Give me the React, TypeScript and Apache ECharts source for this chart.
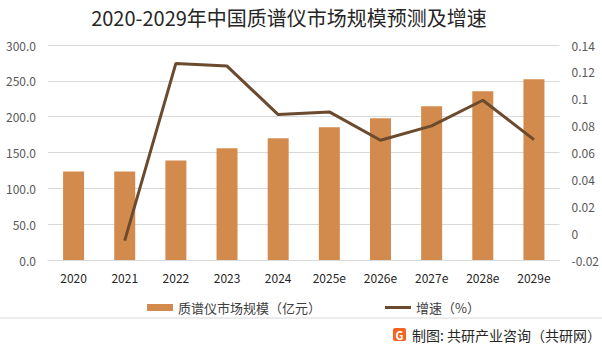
import React, { useEffect, useRef } from "react";
import * as echarts from "echarts";

const categories = ["2020", "2021", "2022", "2023", "2024", "2025e", "2026e", "2027e", "2028e", "2029e"];
const marketSize = [123.6, 123.6, 139.0, 155.8, 169.8, 185.2, 197.8, 214.6, 235.5, 252.3];
const growthRate = [null, -0.0056, 0.1263, 0.1243, 0.0882, 0.0902, 0.0691, 0.0798, 0.0989, 0.0696];
const leftTicks = { min: 0, max: 300, interval: 50 };
const rightTicks = { min: -0.02, max: 0.14, interval: 0.02 };

const titleText = "2020-2029年中国质谱仪市场规模预测及增速";
const barName = "质谱仪市场规模（亿元）";
const lineName = "增速（%）";
const footerText = "制图: 共研产业咨询（共研网）";

const FONT = '"Noto Sans CJK SC", "Noto Sans", sans-serif';

export default function App() {
  const ref = useRef<HTMLDivElement>(null);
  useEffect(() => {
    if (!ref.current) return;
    const chart = echarts.init(ref.current, null, { renderer: "svg" });
    chart.setOption({
      animation: false,
      backgroundColor: "#ffffff",
      textStyle: { fontFamily: FONT },
      title: {
        text: titleText,
        left: 284,
        textAlign: "center",
        top: 2,
        textStyle: { fontFamily: FONT, fontSize: 20, fontWeight: "normal", color: "#262626" },
      },
      grid: { left: 48, right: 42, top: 45, bottom: 89, containLabel: false },
      legend: {
        left: 142,
        top: 296,
        itemGap: 64,
        itemWidth: 26,
        itemHeight: 7,
        textStyle: { fontFamily: FONT, fontSize: 13, color: "#404040" },
        data: [
          { name: barName, icon: "rect" },
          { name: lineName, icon: "path://M0,0L26,0L26,3L0,3Z" },
        ],
      },
      xAxis: {
        type: "category",
        data: categories,
        axisLine: { show: true, lineStyle: { color: "#d9d9d9" } },
        axisTick: { show: false },
        axisLabel: { color: "#262626", fontSize: 12, fontFamily: FONT, margin: 11 },
      },
      yAxis: [
        {
          type: "value",
          min: leftTicks.min,
          max: leftTicks.max,
          interval: leftTicks.interval,
          axisLine: { show: false },
          axisTick: { show: false },
          splitLine: { lineStyle: { color: "#d9d9d9" } },
          axisLabel: {
            color: "#595959",
            fontSize: 12,
            fontFamily: FONT,
            margin: 12,
            formatter: (v: number) => v.toFixed(1),
          },
        },
        {
          type: "value",
          min: rightTicks.min,
          max: rightTicks.max,
          interval: rightTicks.interval,
          axisLine: { show: false },
          axisTick: { show: false },
          splitLine: { show: false },
          axisLabel: {
            color: "#595959",
            fontSize: 12,
            fontFamily: FONT,
            margin: 12,
            formatter: (v: number) => String(parseFloat(v.toFixed(2))),
          },
        },
      ],
      series: [
        {
          name: barName,
          type: "bar",
          data: marketSize,
          barWidth: 21,
          itemStyle: { color: "#D38B4D" },
        },
        {
          name: lineName,
          type: "line",
          yAxisIndex: 1,
          data: growthRate,
          symbol: "none",
          lineStyle: { color: "#6B4A2E", width: 3 },
          itemStyle: { color: "#6B4A2E" },
        },
      ],
      graphic: [
        {
          type: "line",
          shape: { x1: 0, y1: 318, x2: 602, y2: 318 },
          style: { stroke: "#d9d9d9", lineWidth: 1 },
        },
        {
          type: "rect",
          shape: { x: 393, y: 328, width: 13, height: 13, r: 2 },
          style: { fill: "#F26522" },
        },
        {
          type: "text",
          x: 399.5,
          y: 334.5,
          style: {
            text: "G",
            fill: "#ffffff",
            fontSize: 11,
            fontWeight: "bold",
            fontFamily: FONT,
            align: "center",
            verticalAlign: "middle",
          },
        },
        {
          type: "text",
          x: 412,
          y: 335,
          style: {
            text: footerText,
            fill: "#262626",
            fontSize: 14,
            fontFamily: FONT,
            verticalAlign: "middle",
          },
        },
      ],
    });
    return () => chart.dispose();
  }, []);
  return (
    <div
      ref={ref}
      style={{ position: "fixed", left: 0, top: 0, width: 602, height: 349 }}
    />
  );
}
